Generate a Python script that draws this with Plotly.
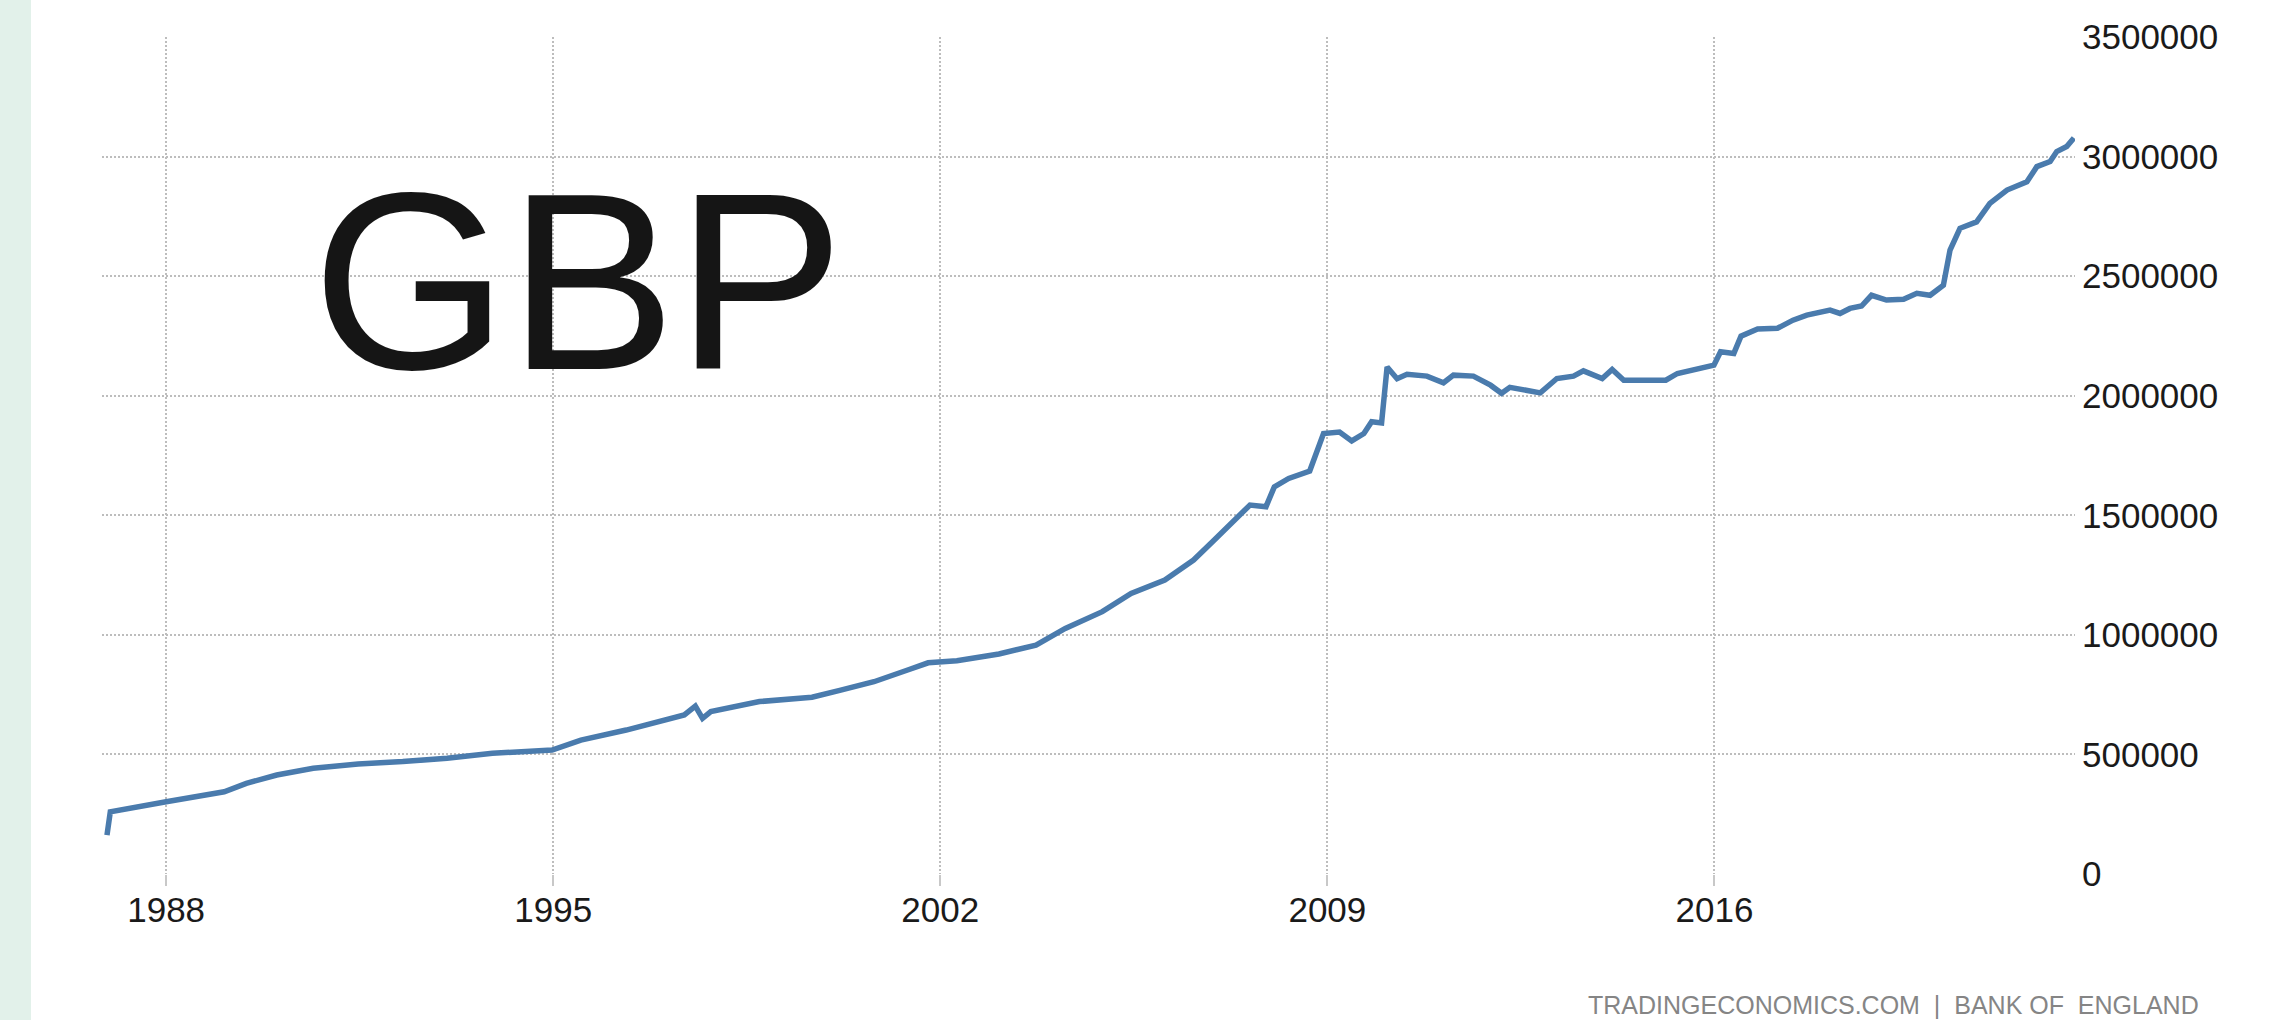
import plotly.graph_objects as go

# ---- data (decimal year, GBP) ----
years = [1986.93, 1986.99, 1988.0, 1988.4, 1989.05, 1989.45, 1990.0, 1990.66, 1991.47, 1992.28,
         1993.08, 1993.9, 1994.98, 1995.5, 1996.32, 1997.37, 1997.57, 1997.7, 1997.85, 1998.73,
         1999.2, 1999.68, 2000.2, 2000.8, 2001.41, 2001.78, 2002.3, 2003.06, 2003.73, 2004.26,
         2004.93, 2005.45, 2006.06, 2006.58, 2006.95, 2007.33, 2007.6, 2007.89, 2008.04, 2008.3,
         2008.68, 2008.93, 2009.22, 2009.44, 2009.66, 2009.8, 2009.98, 2010.08, 2010.26, 2010.44,
         2010.8, 2011.1, 2011.28, 2011.64, 2011.95, 2012.15, 2012.3, 2012.85, 2013.15, 2013.45,
         2013.63, 2013.97, 2014.15, 2014.36, 2014.78, 2015.12, 2015.33, 2015.75, 2015.99, 2016.11,
         2016.35, 2016.48, 2016.78, 2017.14, 2017.42, 2017.67, 2018.09, 2018.27, 2018.45, 2018.66,
         2018.84, 2019.11, 2019.42, 2019.66, 2019.9, 2020.14, 2020.26, 2020.44, 2020.74, 2020.98,
         2021.29, 2021.65, 2021.83, 2022.07, 2022.19, 2022.37, 2022.5]
values = [163000, 260000, 302000, 316000, 344000, 379000, 414000, 442000, 460000, 470000,
          484000, 505000, 518000, 560000, 602000, 665000, 702000, 651000, 679000, 721000,
          728000, 739000, 769000, 804000, 853000, 883000, 892000, 920000, 957000, 1027000,
          1097000, 1173000, 1229000, 1313000, 1396000, 1480000, 1543000, 1536000, 1619000, 1654000,
          1685000, 1842000, 1848000, 1811000, 1842000, 1891000, 1886000, 2120000, 2071000, 2090000,
          2082000, 2054000, 2086000, 2082000, 2044000, 2010000, 2035000, 2012000, 2072000, 2082000,
          2104000, 2072000, 2110000, 2065000, 2062000, 2065000, 2093000, 2118000, 2128000, 2184000,
          2177000, 2249000, 2279000, 2282000, 2316000, 2337000, 2358000, 2344000, 2365000, 2375000,
          2420000, 2400000, 2403000, 2428000, 2420000, 2462000, 2609000, 2700000, 2727000, 2804000,
          2860000, 2895000, 2958000, 2979000, 3021000, 3042000, 3078000]

x_tick_years = [1988, 1995, 2002, 2009, 2016]
x_tick_labels = ["1988", "1995", "2002", "2009", "2016"]
y_tick_values = [0, 500000, 1000000, 1500000, 2000000, 2500000, 3000000, 3500000]
y_tick_labels = ["0", "500000", "1000000", "1500000", "2000000", "2500000", "3000000", "3500000"]

title_text = "GBP"
source_text = "TRADINGECONOMICS.COM\u00a0\u00a0|\u00a0\u00a0BANK OF\u00a0\u00a0ENGLAND"

W, H = 2269, 1020
L, R, T, B = 102, 194, 37, 146
PW, PH = W - L - R, H - T - B

TICKFONT = "Liberation Sans Narrow, Arial Narrow, Liberation Sans, sans-serif"

fig = go.Figure()
fig.add_trace(go.Scatter(
    x=years, y=values, mode="lines",
    line=dict(color="#4a7bad", width=5.5),
    hoverinfo="skip", showlegend=False,
))

grid_color = "#bdbdbd"
fig.update_xaxes(
    range=[1986.84, 2022.52],
    tickmode="array", tickvals=x_tick_years, ticktext=x_tick_labels,
    showgrid=True, gridcolor=grid_color, gridwidth=2, griddash="2px,2px",
    ticks="outside", ticklen=11, tickwidth=2, tickcolor="#c8c8c8",
    showline=False, zeroline=False,
    ticklabelstandoff=-6,
    tickfont=dict(family=TICKFONT, size=35, color="#1a1a1a"),
)
fig.update_yaxes(
    range=[0, 3500000], side="right",
    tickmode="array", tickvals=y_tick_values, ticktext=y_tick_labels,
    showgrid=True, gridcolor=grid_color, gridwidth=2, griddash="2px,2px",
    ticks="", showline=False, zeroline=False,
    ticklabelstandoff=6,
    tickfont=dict(family=TICKFONT, size=35, color="#1a1a1a"),
)

# light mint strip at the far left
fig.add_shape(type="rect", xref="paper", yref="paper",
              x0=(0 - L) / PW, x1=(31 - L) / PW,
              y0=-B / PH, y1=1 + T / PH,
              fillcolor="#e2f1ea", line=dict(width=0), layer="below")

fig.add_annotation(
    text=title_text, xref="paper", yref="paper",
    x=(310 - L) / PW, y=(874 - 281) / PH, xanchor="left", yanchor="middle",
    showarrow=False,
    font=dict(family="Liberation Sans, Arial, sans-serif", size=252, color="#151515"),
)
fig.add_annotation(
    text=source_text, xref="paper", yref="paper",
    x=(2201 - L) / PW, y=(874 - 1005) / PH, xanchor="right", yanchor="middle",
    showarrow=False,
    font=dict(family=TICKFONT, size=25, color="#858585"),
)

fig.update_layout(
    width=W, height=H,
    margin=dict(l=L, r=R, t=T, b=B),
    paper_bgcolor="white", plot_bgcolor="white",
    showlegend=False,
)

fig.write_html("out.html", config={"displayModeBar": False},
               post_script="document.body.style.margin='0px';document.body.style.overflow='hidden';")
